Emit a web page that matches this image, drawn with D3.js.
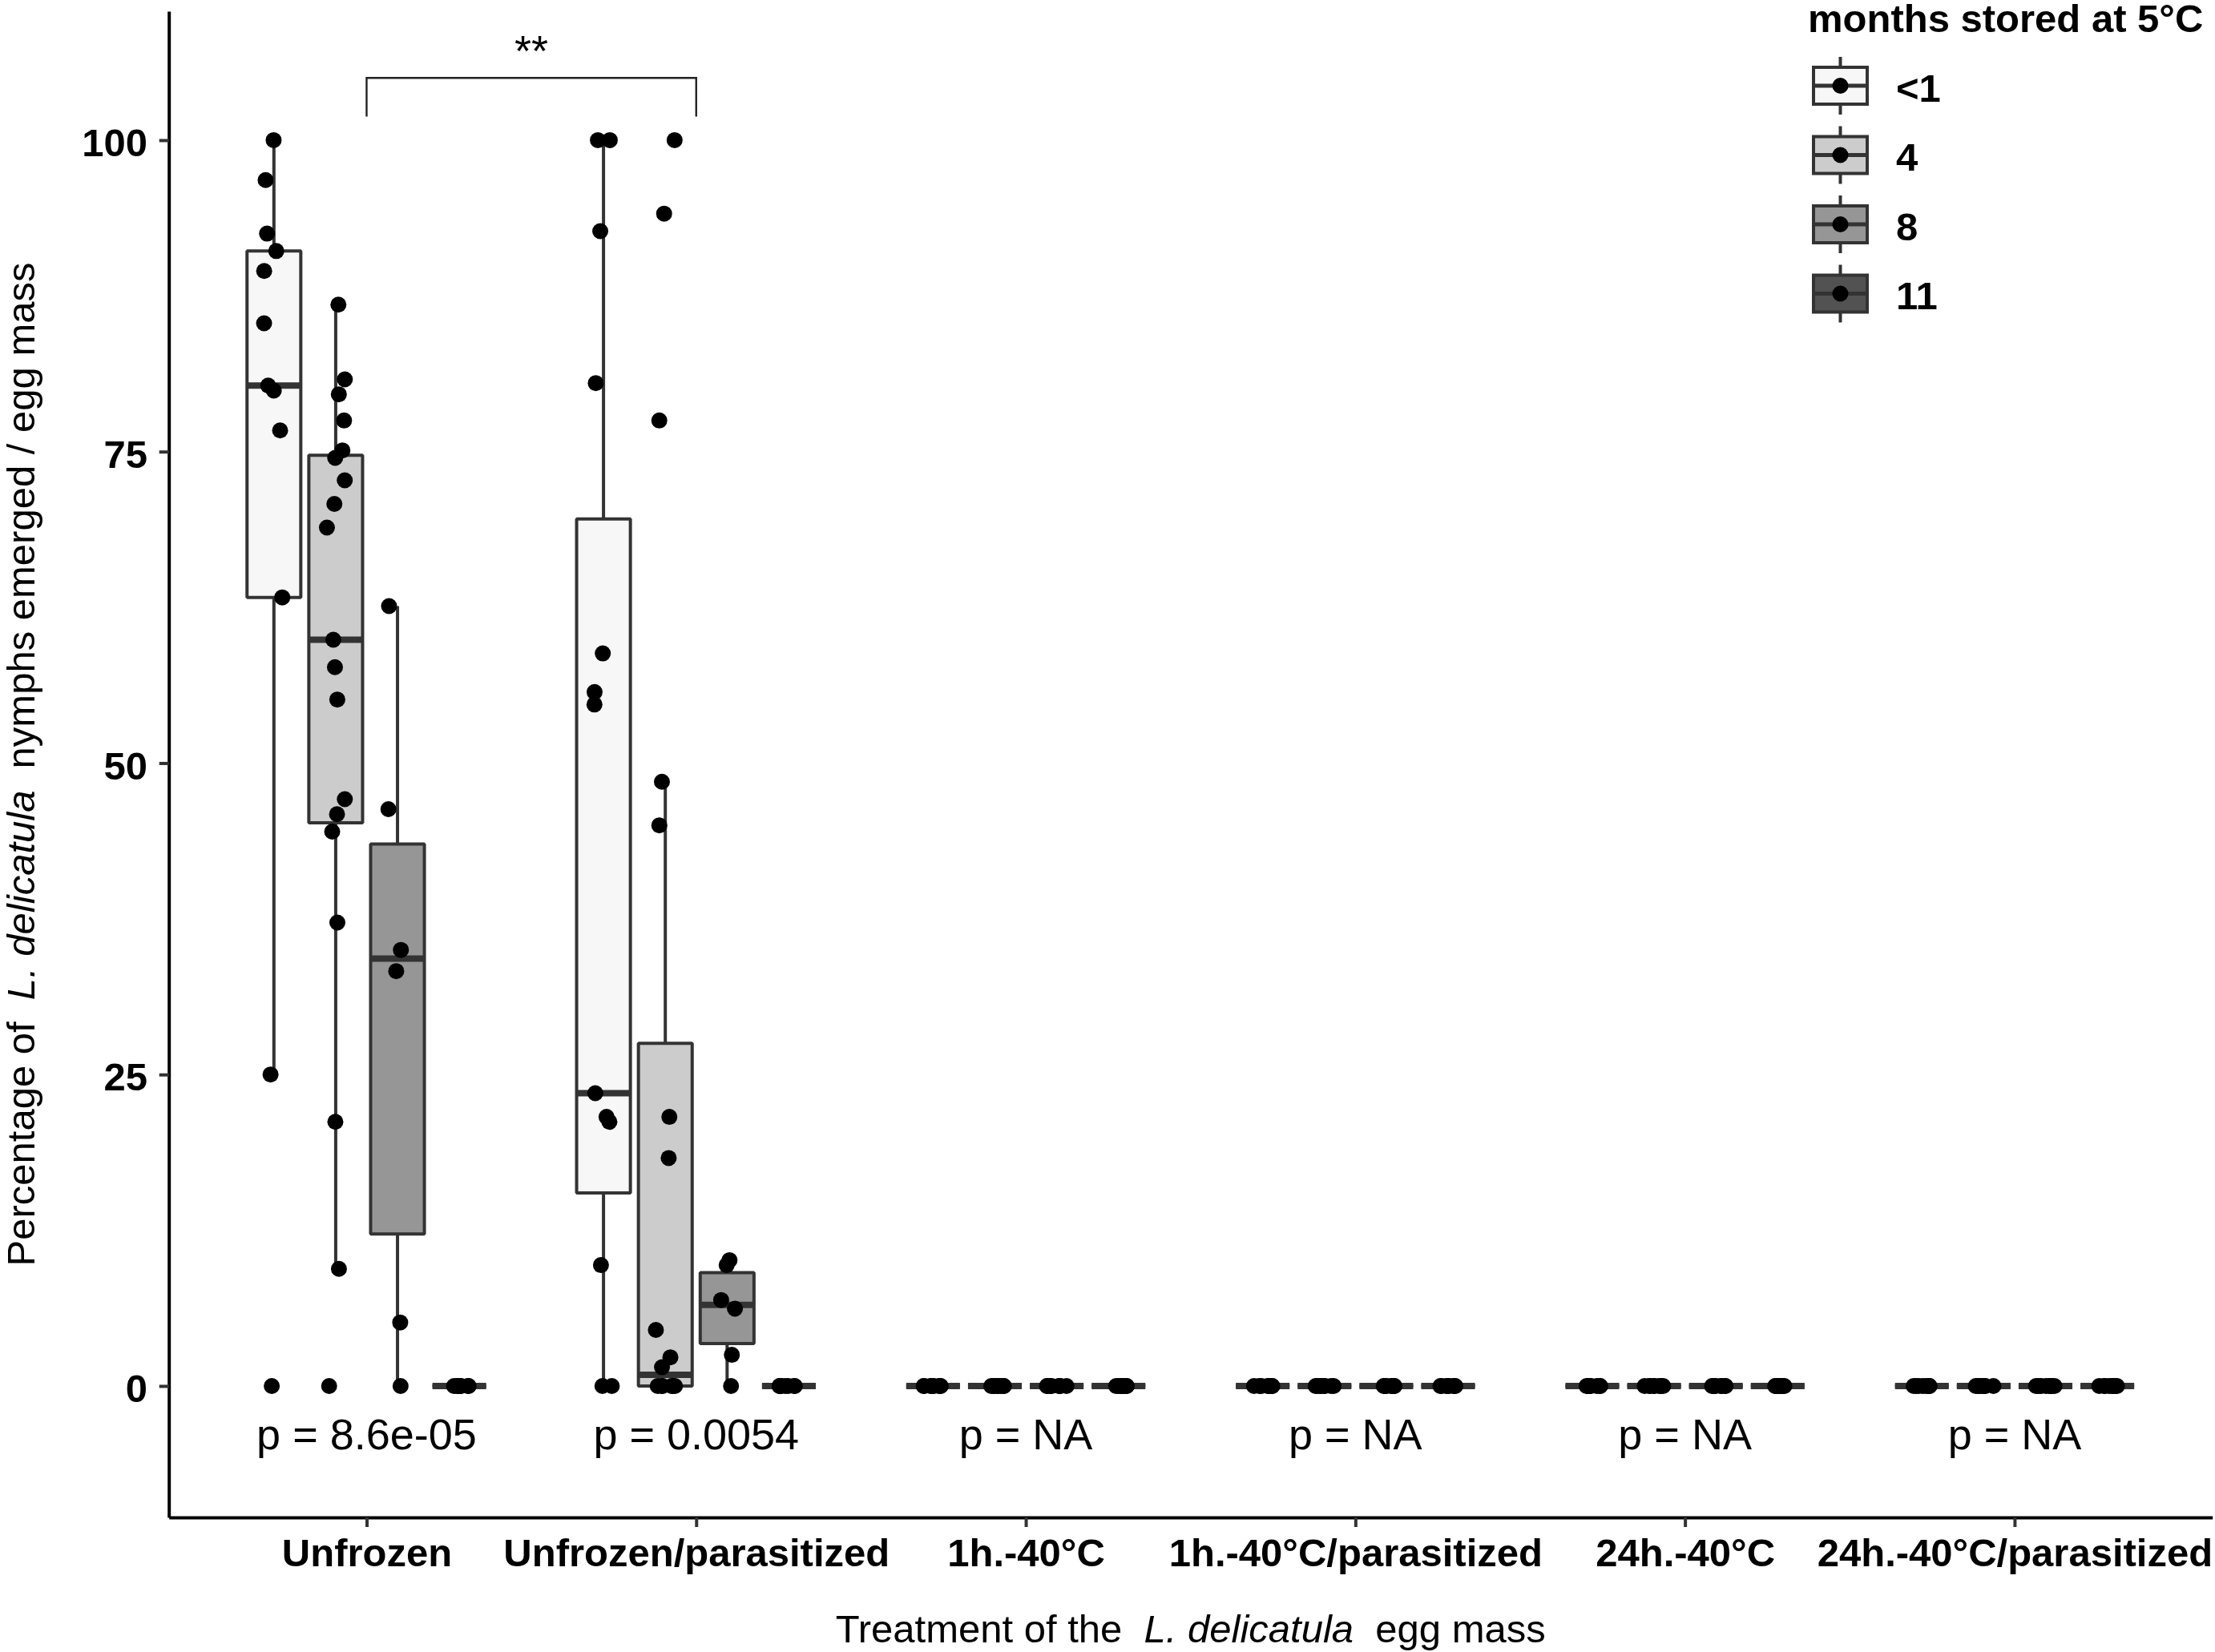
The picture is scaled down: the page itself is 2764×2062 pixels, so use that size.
<!DOCTYPE html>
<html lang="en">
<head>
    <meta charset="UTF-8">
    <title>Nymph emergence by treatment and storage time</title>
    <script src="https://d3js.org/d3.v7.min.js" charset="utf-8"></script>
    <style>
        body { margin: 0; background: #fff; }
        svg { display: block; background: #fff; }
        text { font-family: "Liberation Sans", Arial, sans-serif; fill: #000; }
    </style>
</head>
<body>
    <div id="boxplot_chart"></div>
    <script>

    // ---- data ----
    var treatments = ['Unfrozen', 'Unfrozen/parasitized', '1h.-40\u00B0C', '1h.-40\u00B0C/parasitized', '24h.-40\u00B0C', '24h.-40\u00B0C/parasitized'];
    var months = ['<1', '4', '8', '11'];
    var pLabels = ['p = 8.6e-05', 'p = 0.0054', 'p = NA', 'p = NA', 'p = NA', 'p = NA'];
    var yTicks = [0, 25, 50, 75, 100];

    // box statistics, rows = treatment, columns = months
    var whiskerLow  = [[25, 9.4, 0, 0], [0, 0, 0, 0], [0, 0, 0, 0], [0, 0, 0, 0], [0, 0, 0, 0], [0, 0, 0, 0]];
    var quartile1   = [[63.3, 45.2, 12.2, 0], [15.5, 0, 3.4, 0], [0, 0, 0, 0], [0, 0, 0, 0], [0, 0, 0, 0], [0, 0, 0, 0]];
    var medians     = [[80.3, 59.9, 34.3, 0], [23.5, 0.9, 6.5, 0], [0, 0, 0, 0], [0, 0, 0, 0], [0, 0, 0, 0], [0, 0, 0, 0]];
    var quartile3   = [[91.1, 74.7, 43.5, 0], [69.6, 27.5, 9.1, 0], [0, 0, 0, 0], [0, 0, 0, 0], [0, 0, 0, 0], [0, 0, 0, 0]];
    var whiskerHigh = [[100, 86.8, 62.6, 0], [100, 48.5, 10.1, 0], [0, 0, 0, 0], [0, 0, 0, 0], [0, 0, 0, 0], [0, 0, 0, 0]];

    // individual egg masses (percent emerged), one list per month
    var pointsUnfrozen = [
        [100, 96.8, 92.5, 91.1, 89.5, 85.3, 80.3, 79.9, 76.7, 63.3, 25, 0],
        [86.8, 80.8, 79.6, 77.5, 75.1, 74.5, 72.7, 70.8, 68.9, 59.9, 57.7, 55.1, 47.1, 45.9, 44.5, 37.2, 21.2, 9.4, 0],
        [62.6, 46.3, 35.0, 33.3, 5.1, 0],
        [0, 0, 0, 0, 0, 0, 0, 0]
    ];
    var pointsUnfrozenParasitized = [
        [100, 100, 92.7, 80.5, 58.8, 55.7, 54.7, 23.5, 21.6, 21.2, 9.7, 0, 0],
        [100, 94.1, 77.5, 48.5, 45.0, 21.6, 18.3, 4.5, 2.3, 1.5, 0, 0, 0, 0, 0, 0],
        [10.1, 9.7, 6.9, 6.2, 2.5, 0],
        [0, 0, 0, 0, 0, 0, 0, 0]
    ];
    var points1h = [
        [0, 0, 0, 0, 0, 0, 0, 0],
        [0, 0, 0, 0, 0, 0, 0, 0],
        [0, 0, 0, 0, 0, 0, 0, 0],
        [0, 0, 0, 0, 0, 0, 0, 0]
    ];
    var points1hParasitized = [
        [0, 0, 0, 0, 0, 0, 0, 0],
        [0, 0, 0, 0, 0, 0, 0, 0],
        [0, 0, 0, 0, 0, 0, 0, 0],
        [0, 0, 0, 0, 0, 0, 0, 0]
    ];
    var points24h = [
        [0, 0, 0, 0, 0, 0, 0, 0],
        [0, 0, 0, 0, 0, 0, 0, 0],
        [0, 0, 0, 0, 0, 0, 0, 0],
        [0, 0, 0, 0, 0, 0, 0, 0]
    ];
    var points24hParasitized = [
        [0, 0, 0, 0, 0, 0, 0, 0],
        [0, 0, 0, 0, 0, 0, 0, 0],
        [0, 0, 0, 0, 0, 0, 0, 0],
        [0, 0, 0, 0, 0, 0, 0, 0]
    ];
    var allPoints = [pointsUnfrozen, pointsUnfrozenParasitized, points1h, points1hParasitized, points24h, points24hParasitized];

    // significance bracket between the first two treatments
    var bracketPair = [0, 1];
    var bracketLabel = '**';

    // ---- styling ----
    var fills = ['#F7F7F7', '#CCCCCC', '#969696', '#525252'];
    var lineColor = '#333333';
    var fontTick = 49, fontTitle = 49, fontP = 54, fontLegend = 49;
    var lineW = 4, medianW = 8, dotR = 10;

    var svgWidth = 2764;
    var svgHeight = 2062;

    var svg = d3.select('#boxplot_chart')
                .append('svg')
                .attr('width', svgWidth)
                .attr('height', svgHeight);

    // panel edges
    var panelLeft = 210.7, panelRight = 2760.7, panelTop = 14, panelBottom = 1894;

    var x_scale = d3.scalePoint()
        .domain(treatments)
        .range([panelLeft, panelRight])
        .padding(0.6);

    var step = x_scale.step();

    // dodge inside each treatment
    var dodge = d3.scaleBand()
        .domain(months)
        .range([-0.375 * step, 0.375 * step]);

    var boxWidth = dodge.bandwidth() * 0.87;

    var y_scale = d3.scaleLinear()
        .domain([-10.55, 110.35])
        .range([panelBottom, panelTop]);

    // flatten the box table
    var boxes = [];
    treatments.forEach(function(t, i) {
        months.forEach(function(m, j) {
            boxes.push({
                t: t, m: m, j: j,
                lo: whiskerLow[i][j], q1: quartile1[i][j], med: medians[i][j],
                q3: quartile3[i][j], hi: whiskerHigh[i][j]
            });
        });
    });

    function centerX(t, m) {
        return x_scale(t) + dodge(m) + dodge.bandwidth() / 2;
    }

    var g = svg.append('g').attr('class', 'boxes');

    // whiskers
    boxes.forEach(function(d) {
        var cx = centerX(d.t, d.m);
        if (d.hi > d.q3) {
            g.append('line')
                .attr('x1', cx).attr('x2', cx)
                .attr('y1', y_scale(d.q3)).attr('y2', y_scale(d.hi))
                .attr('stroke', lineColor).attr('stroke-width', lineW);
        }
        if (d.lo < d.q1) {
            g.append('line')
                .attr('x1', cx).attr('x2', cx)
                .attr('y1', y_scale(d.q1)).attr('y2', y_scale(d.lo))
                .attr('stroke', lineColor).attr('stroke-width', lineW);
        }
    });

    // boxes (path so zero-height boxes still get an outline)
    g.selectAll('.box')
        .data(boxes)
        .enter()
        .append('path')
        .attr('class', 'box')
        .attr('d', function(d) {
            var x0 = centerX(d.t, d.m) - boxWidth / 2;
            var x1 = x0 + boxWidth;
            return 'M' + x0 + ',' + y_scale(d.q3) + 'H' + x1 + 'V' + y_scale(d.q1) + 'H' + x0 + 'Z';
        })
        .attr('fill', function(d) { return fills[d.j]; })
        .attr('stroke', lineColor)
        .attr('stroke-width', lineW)
        .attr('stroke-linejoin', 'bevel');

    // medians
    g.selectAll('.median')
        .data(boxes)
        .enter()
        .append('line')
        .attr('class', 'median')
        .attr('x1', function(d) { return centerX(d.t, d.m) - boxWidth / 2; })
        .attr('x2', function(d) { return centerX(d.t, d.m) + boxWidth / 2; })
        .attr('y1', function(d) { return y_scale(d.med); })
        .attr('y2', function(d) { return y_scale(d.med); })
        .attr('stroke', lineColor)
        .attr('stroke-width', medianW);

    // jittered points
    var jitter = d3.randomUniform.source(d3.randomLcg(0.37))(-0.16 * dodge.bandwidth(), 0.16 * dodge.bandwidth());
    var dots = [];
    treatments.forEach(function(t, i) {
        months.forEach(function(m, j) {
            allPoints[i][j].forEach(function(v) {
                dots.push({ x: centerX(t, m) + jitter(), v: v });
            });
        });
    });

    svg.append('g').attr('class', 'dots')
        .selectAll('circle')
        .data(dots)
        .enter()
        .append('circle')
        .attr('cx', function(d) { return d.x; })
        .attr('cy', function(d) { return y_scale(d.v); })
        .attr('r', dotR)
        .attr('fill', '#000');

    // p values under each group
    svg.append('g').attr('class', 'p-values')
        .selectAll('text')
        .data(treatments)
        .enter()
        .append('text')
        .attr('x', function(d) { return x_scale(d); })
        .attr('y', y_scale(-5.1))
        .attr('text-anchor', 'middle')
        .style('font-size', fontP + 'px')
        .text(function(d, i) { return pLabels[i]; });

    // significance bracket
    var bx0 = x_scale(treatments[bracketPair[0]]);
    var bx1 = x_scale(treatments[bracketPair[1]]);
    svg.append('path')
        .attr('d', 'M' + bx0 + ',' + y_scale(101.9) + 'V' + y_scale(105) + 'H' + bx1 + 'V' + y_scale(101.9))
        .attr('fill', 'none')
        .attr('stroke', '#222')
        .attr('stroke-width', 2.4);
    svg.append('text')
        .attr('x', (bx0 + bx1) / 2)
        .attr('y', y_scale(106))
        .attr('text-anchor', 'middle')
        .style('font-size', fontP + 'px')
        .text(bracketLabel);

    // y axis
    var y_axis = svg.append('g')
        .attr('class', 'y-axis')
        .attr('transform', 'translate(' + panelLeft + ',0)')
        .call(d3.axisLeft(y_scale).tickValues(yTicks).tickSize(12).tickSizeOuter(0).tickPadding(14.7));
    y_axis.select('.domain').attr('stroke', '#000').attr('stroke-width', lineW);
    y_axis.selectAll('.tick line').attr('stroke', lineColor).attr('stroke-width', lineW);
    y_axis.selectAll('.tick text')
        .attr('dy', '0.4em')
        .style('font-size', fontTick + 'px')
        .style('font-weight', 'bold')
        .attr('fill', '#000');

    // x axis
    var x_axis = svg.append('g')
        .attr('class', 'x-axis')
        .attr('transform', 'translate(0,' + panelBottom + ')')
        .call(d3.axisBottom(x_scale).tickSize(12).tickSizeOuter(0).tickPadding(14));
    x_axis.select('.domain').attr('stroke', '#000').attr('stroke-width', lineW);
    x_axis.selectAll('.tick line').attr('stroke', lineColor).attr('stroke-width', lineW);
    x_axis.selectAll('.tick text')
        .style('font-size', fontTick + 'px')
        .style('font-weight', 'bold')
        .attr('fill', '#000');
    svg.selectAll('.x-axis, .y-axis').attr('font-family', null).attr('font-size', null);

    // axis titles
    var xTitle = svg.append('text')
        .attr('x', (panelLeft + panelRight) / 2)
        .attr('y', 2050)
        .attr('text-anchor', 'middle')
        .style('font-size', fontTitle + 'px');
    xTitle.append('tspan').text('Treatment of the \u00A0');
    xTitle.append('tspan').style('font-style', 'italic').text('L. delicatula');
    xTitle.append('tspan').text('\u00A0 egg mass');

    var yTitle = svg.append('text')
        .attr('transform', 'translate(43,' + ((panelTop + panelBottom) / 2) + ') rotate(-90)')
        .attr('text-anchor', 'middle')
        .style('font-size', fontTitle + 'px');
    yTitle.append('tspan').text('Percentage of \u00A0');
    yTitle.append('tspan').style('font-style', 'italic').text('L. delicatula');
    yTitle.append('tspan').text('\u00A0 nymphs emerged / egg mass');

    // legend
    var legend = svg.append('g').attr('class', 'legend').attr('transform', 'translate(2256,0)');
    legend.append('text')
        .attr('x', 0)
        .attr('y', 40)
        .style('font-size', fontLegend + 'px')
        .style('font-weight', 'bold')
        .text('months stored at 5\u00B0C');

    var keys = legend.selectAll('.key')
        .data(months)
        .enter()
        .append('g')
        .attr('class', 'key')
        .attr('transform', function(d, i) { return 'translate(40.5,' + (107 + i * 86.5) + ')'; });

    keys.append('line')
        .attr('y1', -36).attr('y2', 36)
        .attr('stroke', lineColor).attr('stroke-width', lineW);
    keys.append('rect')
        .attr('x', -33.5).attr('y', -23)
        .attr('width', 67).attr('height', 46)
        .attr('fill', function(d, i) { return fills[i]; })
        .attr('stroke', lineColor).attr('stroke-width', lineW);
    keys.append('line')
        .attr('x1', -33.5).attr('x2', 33.5)
        .attr('stroke', lineColor).attr('stroke-width', 5);
    keys.append('circle')
        .attr('r', dotR)
        .attr('fill', '#000');
    keys.append('text')
        .attr('x', 69.5)
        .attr('y', 0)
        .attr('dy', '0.4em')
        .style('font-size', fontLegend + 'px')
        .style('font-weight', 'bold')
        .text(function(d) { return d; });

    </script>
</body>
</html>
